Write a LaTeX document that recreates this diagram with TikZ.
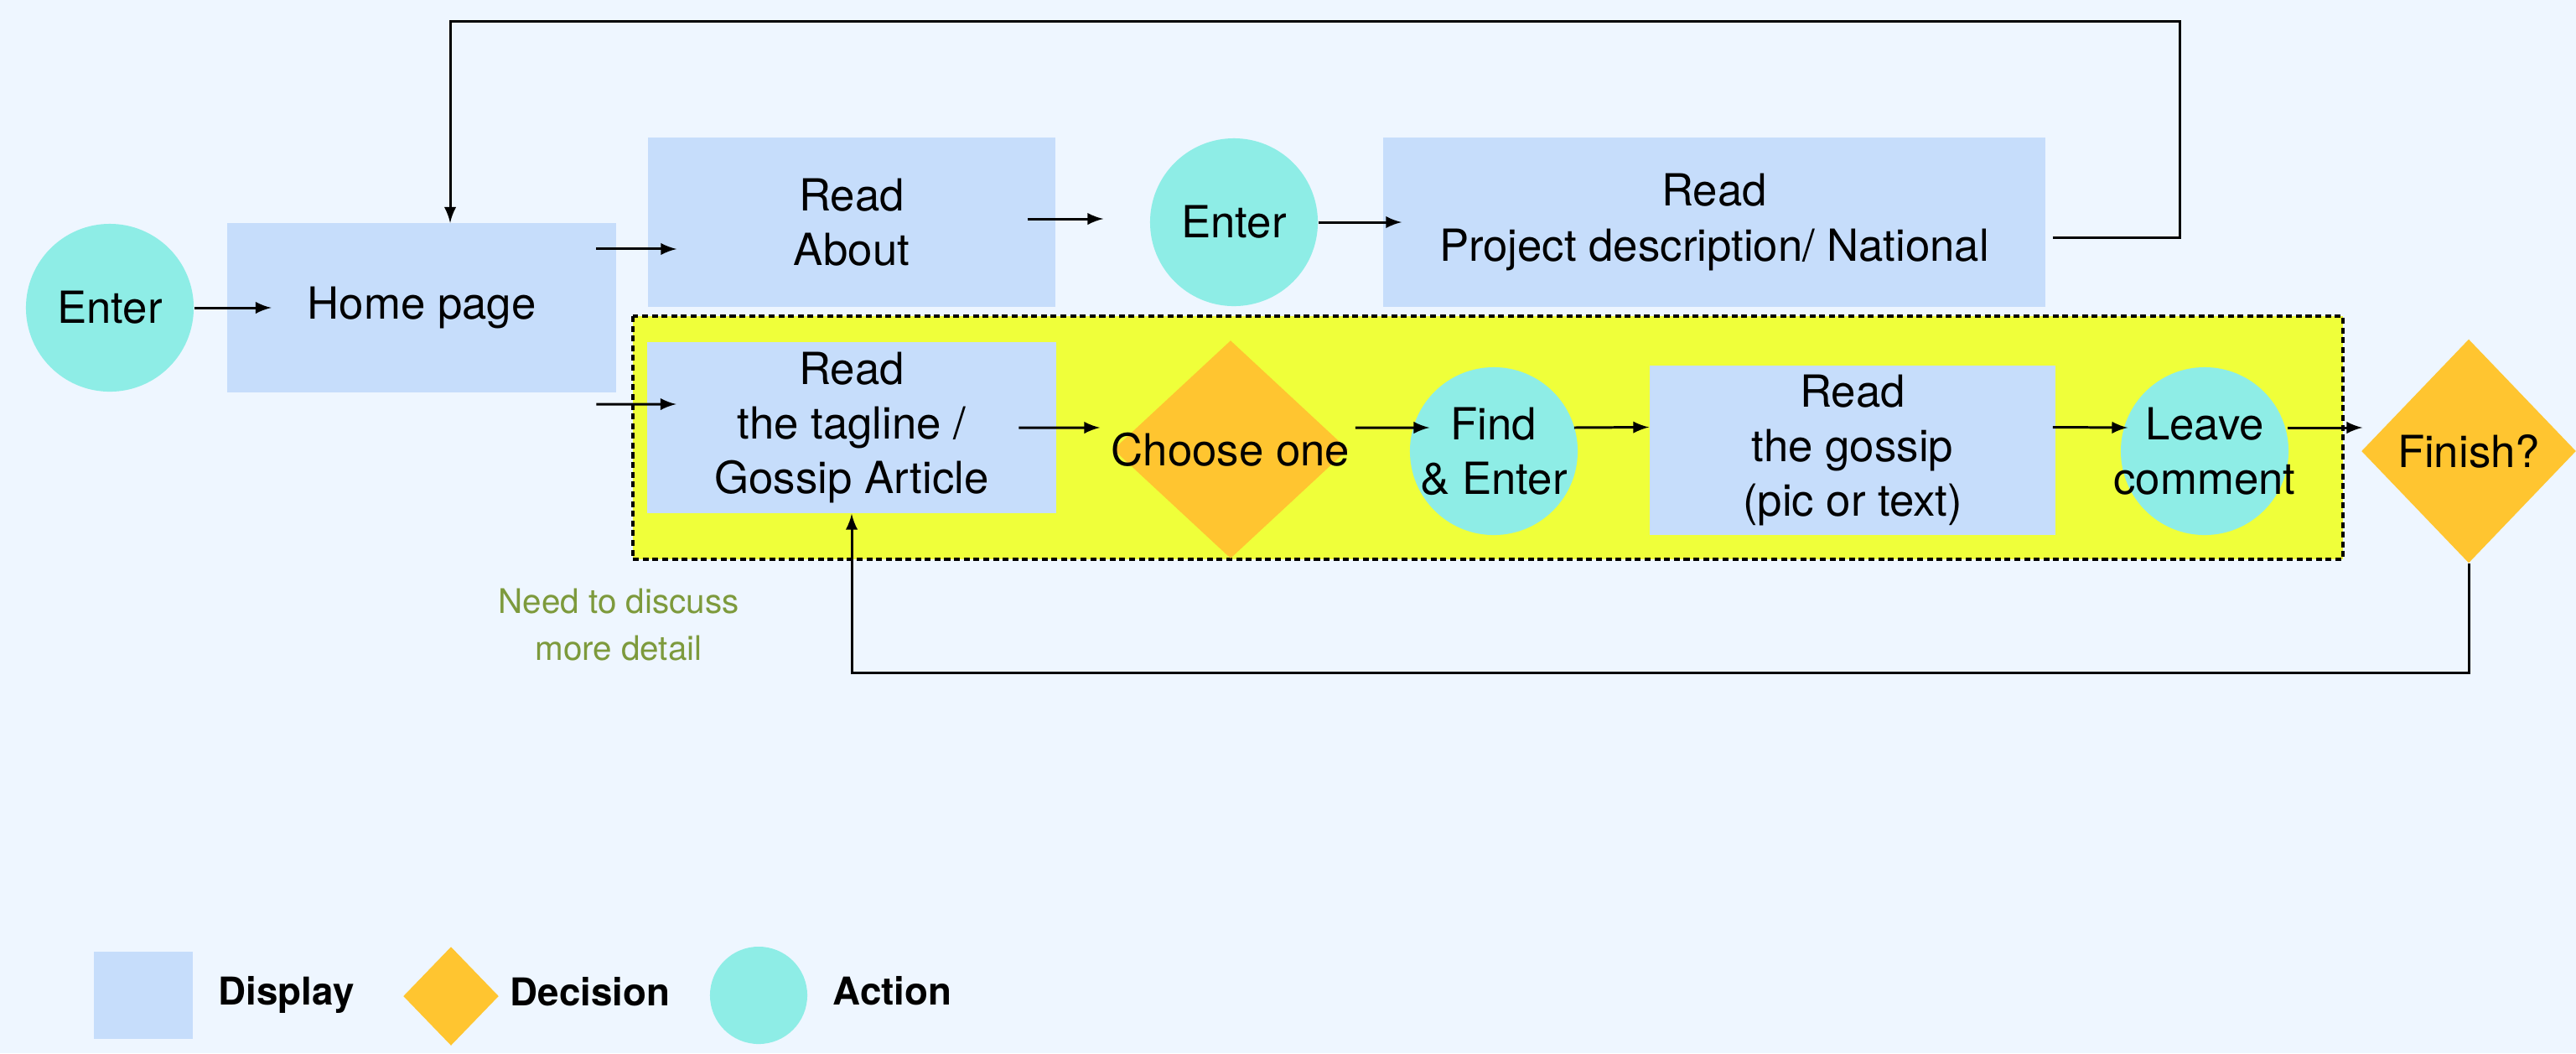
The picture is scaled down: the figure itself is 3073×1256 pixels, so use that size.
\documentclass[tikz,border=0pt]{standalone}
\usepackage{fontspec}
\setmainfont{TeX Gyre Heros}
\usepackage{tikz}
\usetikzlibrary{positioning,shapes,arrows}

\definecolor{bgc}{HTML}{EEF6FF}
\definecolor{dispc}{HTML}{C6DDFB}
\definecolor{actc}{HTML}{8EEDE6}
\definecolor{decc}{HTML}{FFC530}
\definecolor{hlc}{HTML}{EFFF3A}
\definecolor{notec}{HTML}{7D9A3C}

\begin{document}
\begin{tikzpicture}[x=0.01cm, y=-0.01cm,
		font=\fontsize{15}{18.5}\selectfont,
		display/.style={rectangle, fill=dispc, align=center, inner sep=0pt},
		action/.style={circle, fill=actc, minimum size=2cm, inner sep=0pt},
		decision/.style={diamond, fill=decc, inner sep=0pt},
		arr/.style={-latex, line width=0.85pt},
		legend/.style={anchor=west, inner sep=0pt, text height=1.6ex, text depth=.4ex, font=\fontsize{13}{15}\selectfont\bfseries}]

		\fill[bgc] (0,0) rectangle (3073,1256);
		\useasboundingbox (0,0) rectangle (3073,1256);

		% highlighted part
		\draw[fill=hlc, line width=0.9pt, dash pattern=on 2pt off 1.3pt] (755,377) rectangle (2795,667);

		% first row
		\node[action, label=center:Enter] (enter) at (131,367) {};
		\node[display, minimum width=4.63cm, minimum height=2.01cm] (home) at (503,367) {Home page};
		\node[display, minimum width=4.86cm, minimum height=2.02cm] (about) at (1016,265) {Read\\About};
		\node[action, label=center:Enter] (enter2) at (1472,265) {};
		\node[display, minimum width=7.9cm, minimum height=2.02cm] (project) at (2045,265) {Read\\Project description/ National};

		% second row
		\node[display, minimum width=4.87cm, minimum height=2.04cm] (tagline) at (1016,510) {Read\\the tagline /\\Gossip Article};
		\node[decision, minimum width=2.8cm, minimum height=2.6cm, label=center:Choose one] (choose) at (1468,536) {};
		\node[action, label={[align=center]center:Find\\\& Enter}] (find) at (1782,538) {};
		\node[display, minimum width=4.84cm, minimum height=2.01cm] (gossip) at (2210,537) {Read\\the gossip\\(pic or text)};
		\node[action, label={[align=center]center:Leave\\comment}] (leave) at (2630,538) {};
		\node[decision, minimum width=2.56cm, minimum height=2.67cm, label=center:Finish?] (finish) at (2945,538) {};

		\node[text=notec, align=center, font=\fontsize{11.5}{16}\selectfont] (note) at (738,745) {Need to discuss\\more detail};

		\coordinate (looptop) at (2600,25);

		\draw[arr] (enter) -- ([xshift=.53cm]home.west);
		\draw[arr] ([xshift=-.24cm,yshift=.7cm]home.east) -- ([xshift=.35cm,yshift=.7cm]home.east -| about.west);
		\draw[arr] ([xshift=-.24cm,yshift=-1.15cm]home.east) -- ([xshift=.35cm,yshift=.28cm]tagline.west);
		\draw[arr] ([xshift=-.34cm,yshift=.04cm]about.east) -- ([xshift=-.55cm,yshift=.04cm]enter2.west);
		\draw[arr] (enter2) -- ([xshift=.23cm]project.west);
		\draw[arr] ([xshift=.08cm,yshift=-.18cm]project.east) -| (looptop) -| ([xshift=.34cm]home.north);

		\draw[arr] ([xshift=-.45cm]tagline.east) -- ([xshift=-.15cm,yshift=.26cm]choose.west);
		\draw[arr] ([xshift=.08cm,yshift=.26cm]choose.east) -- ([xshift=.24cm,yshift=.28cm]find.west);
		\draw[arr] ([xshift=-.05cm,yshift=.28cm]find.east) -- ([yshift=.275cm]gossip.west);
		\draw[arr] ([xshift=-.04cm,yshift=.275cm]gossip.east) -- ([xshift=.09cm,yshift=.28cm]leave.west);
		\draw[arr] ([xshift=-.02cm,yshift=.28cm]leave.east) -- ([xshift=.02cm,yshift=.28cm]finish.west);
		\draw[arr] (finish.south) |- ([yshift=-1.9cm]tagline.south) -- (tagline.south);

		% legend
		\node[display, minimum width=1.18cm, minimum height=1.04cm] (ldisp) at (171,1187) {};
		\node[legend] (ldisptxt) at (260,1187) {Display};
		\node[decision, minimum width=1.14cm, minimum height=1.18cm] (ldec) at (538,1188) {};
		\node[legend] (ldectxt) at (608,1188) {Decision};
		\node[action, minimum size=1.16cm] (lact) at (905,1187) {};
		\node[legend] (lacttxt) at (993,1187) {Action};

\end{tikzpicture}
\end{document}
